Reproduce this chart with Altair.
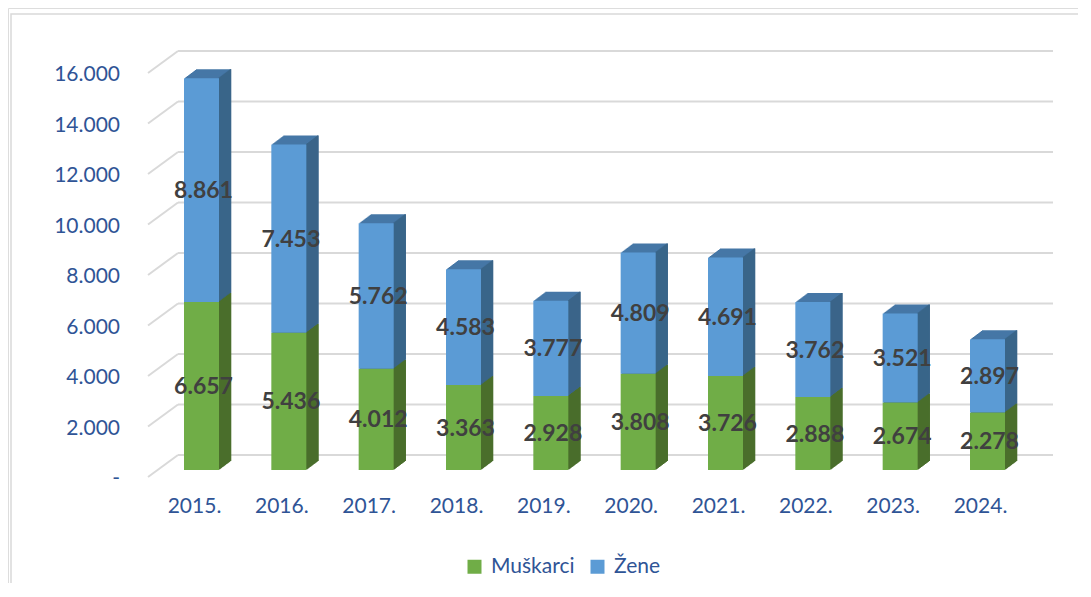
import altair as alt
import pandas as pd

years = [2015, 2016, 2017, 2018, 2019, 2020, 2021, 2022, 2023, 2024]
muskarci = [6657, 5436, 4012, 3363, 2928, 3808, 3726, 2888, 2674, 2278]
zene = [8861, 7453, 5762, 4583, 3777, 4809, 4691, 3762, 3521, 2897]
series = ["Muškarci", "Žene"]
front_colors = ["#70AD47", "#5B9BD5"]
side_colors = ["#4A6E2C", "#3A6589"]
top_colors = ["#4A6E2C", "#4677A6"]
y_ticks = [0, 2000, 4000, 6000, 8000, 10000, 12000, 14000, 16000]
y_tick_labels = ["-", "2.000", "4.000", "6.000", "8.000", "10.000", "12.000", "14.000", "16.000"]
x_labels = [f"{y}." for y in years]

FONT = "Lato"
AXIS_COLOR = "#2F5496"
GRID = "#D9D9D9"
BAR_W = 35
DEPTH = 12
DY = 0.75

rows = []
for i, yr in enumerate(years):
    m, z = muskarci[i], zene[i]
    rows.append(dict(year=yr, series=series[0], y0=0, y1=m, mid=m / 2,
                     label=f"{m:,}".replace(",", "."), side=side_colors[0], top=top_colors[0]))
    rows.append(dict(year=yr, series=series[1], y0=m, y1=m + z, mid=m + z / 2,
                     label=f"{z:,}".replace(",", "."), side=side_colors[1], top=top_colors[1]))
df = pd.DataFrame(rows)
ticks_df = pd.DataFrame({"v": y_ticks, "lab": y_tick_labels})
xlab_df = pd.DataFrame({"year": years, "lab": x_labels})
one = pd.DataFrame({"a": [0]})

xs = alt.Scale(domain=[2015, 2024], range=[193.5, 979.5], padding=0, nice=False, zero=False)
ys = alt.Scale(domain=[0, 16000], range=[462, 58], nice=False)
X = alt.X("year:Q", scale=xs, axis=None)

border = alt.Chart(one).mark_rect(fill=None, stroke=GRID, strokeWidth=1.5).encode(
    x=alt.value(3), x2=alt.value(1200), y=alt.value(6), y2=alt.value(800))

grid_back = alt.Chart(ticks_df).mark_rule(color=GRID, strokeWidth=2, yOffset=-15).encode(
    x=alt.value(170), x2=alt.value(1045), y=alt.Y("v:Q", scale=ys, axis=None))
grid_diag = alt.Chart(ticks_df).mark_rule(color=GRID, strokeWidth=2, yOffset=7, y2Offset=-15).encode(
    x=alt.value(140), x2=alt.value(170), y=alt.Y("v:Q", scale=ys, axis=None), y2="v:Q")
ylabels = alt.Chart(ticks_df).mark_text(align="right", baseline="middle", yOffset=9,
                                        font=FONT, fontSize=21, color=AXIS_COLOR).encode(
    x=alt.value(112), y=alt.Y("v:Q", scale=ys, axis=None), text="lab:N")

layers = [border, grid_back, grid_diag, ylabels]

base = alt.Chart(df)
for i in range(DEPTH, 0, -1):
    layers.append(base.mark_bar(width=BAR_W, xOffset=i, yOffset=-DY * i, y2Offset=-DY * i).encode(
        x=X, y=alt.Y("y1:Q", scale=ys, axis=None), y2="y0:Q",
        color=alt.Color("top:N", scale=None)))
for i in range(1, DEPTH + 1):
    layers.append(base.mark_bar(width=1.6, xOffset=BAR_W / 2 + i - 0.5,
                                yOffset=-DY * i, y2Offset=-DY * i).encode(
        x=X, y=alt.Y("y1:Q", scale=ys, axis=None), y2="y0:Q",
        color=alt.Color("side:N", scale=None)))

front = base.mark_bar(width=BAR_W).encode(
    x=X, y=alt.Y("y1:Q", scale=ys, axis=None), y2="y0:Q",
    color=alt.Color("series:N", scale=alt.Scale(domain=series, range=front_colors),
                    sort=series,
                    legend=alt.Legend(title=None, orient="none", legendX=456, legendY=548,
                                      direction="horizontal", symbolType="square",
                                      symbolSize=196, symbolStrokeWidth=0,
                                      labelFont=FONT, labelFontSize=21, labelColor=AXIS_COLOR,
                                      labelOffset=6, columnPadding=12)))
layers.append(front)

labels = base.mark_text(font=FONT, fontSize=23, fontWeight="bold", color="#404040",
                        baseline="middle", xOffset=2, yOffset=1).encode(
    x=X, y=alt.Y("mid:Q", scale=ys, axis=None), text="label:N")
layers.append(labels)

xlabels = alt.Chart(xlab_df).mark_text(font=FONT, fontSize=21, color=AXIS_COLOR,
                                       baseline="middle", xOffset=-7).encode(
    x=X, y=alt.value(499), text="lab:N")
layers.append(xlabels)

chart = alt.layer(*layers).properties(
    width=1070, height=575, padding=0,
    autosize=alt.AutoSizeParams(type="none")
).configure_view(stroke=None).configure(background="white")

chart.save("out.html", embed_options={"renderer": "svg", "actions": False})
